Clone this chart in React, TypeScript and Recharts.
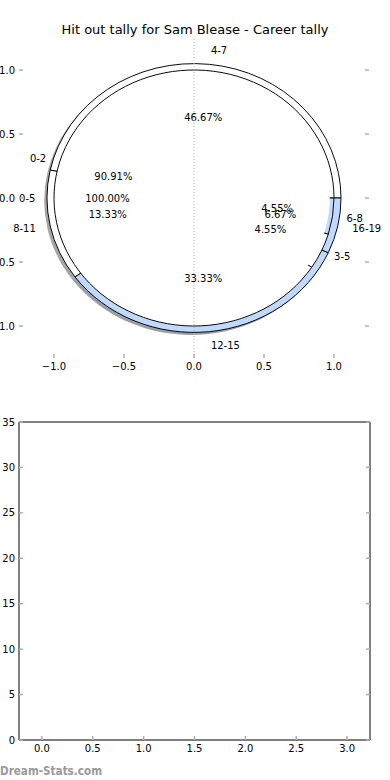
import React from 'react';
import { PieChart, Pie, Cell, ScatterChart, Scatter, XAxis, YAxis, ReferenceLine } from 'recharts';

// hit-out bands per ring; counts give the percentages shown on the chart
const careerBands = ['4-7', '8-11', '12-15', '16-19'];
const careerCounts = [7, 2, 5, 1];
const seasonBands = ['0-2', '3-5', '6-8'];
const seasonCounts = [20, 1, 1];
const recentBands = ['0-5'];
const recentCounts = [1];

const careerFills = ['#ffffff', '#ffffff', '#bfd9ff', '#bfd9ff'];
const seasonFills = ['#ffffff', '#ffffff', '#bfd9ff'];
const recentFills = ['#ffffff'];

const pieTicks = [-1, -0.5, 0, 0.5, 1];
const tallyXTicks = [0, 0.5, 1, 1.5, 2, 2.5, 3];
const tallyYTicks = [0, 5, 10, 15, 20, 25, 30, 35];
const tallyPoints: { x: number; y: number }[] = [];

const FONT = '"DejaVu Sans", sans-serif';
const TICK_GREY = '#b0b0b0';
const UNIT_X = 140; // px per data unit, horizontal
const UNIT_Y = 128; // px per data unit, vertical
const CX = 194;
const CY = 198;
const SHADOW = 2.8;

const toRows = (bands: string[], counts: number[]) => bands.map((band, i) => ({ band, count: counts[i] }));

const rings = [
  { key: 'career', data: toRows(careerBands, careerCounts), fills: careerFills, radius: 1.05, labelRadius: 1.05, edge: '#000' },
  { key: 'season', data: toRows(seasonBands, seasonCounts), fills: seasonFills, radius: 1.0, labelRadius: 1.0, edge: '#000' },
  // single 100% wedge: matplotlib draws it as a plain circle, no radial edge
  { key: 'recent', data: toRows(recentBands, recentCounts), fills: recentFills, radius: 0.97, labelRadius: 1.03, edge: 'none' },
];

// matplotlib style shadow: 0.3 x face colour at half alpha
const shade = (hex: string) => {
  const n = parseInt(hex.slice(1), 16);
  const r = Math.round(((n >> 16) & 255) * 0.3);
  const g = Math.round(((n >> 8) & 255) * 0.3);
  const b = Math.round((n & 255) * 0.3);
  return `rgb(${r},${g},${b})`;
};

const ringLabel = (radius: number) => (p: any) => {
  const a = (-p.midAngle * Math.PI) / 180;
  const cos = Math.cos(a);
  const sin = Math.sin(a);
  const nx = CX + 1.1 * radius * UNIT_X * cos;
  const ny = CY + 1.1 * radius * UNIT_Y * sin;
  const px = CX + 0.6 * radius * UNIT_X * cos;
  const py = CY + 0.6 * radius * UNIT_Y * sin;
  return (
    <g key={`${p.name}-${p.index}`} fontFamily={FONT} fontSize={10} fill="#000">
      <text x={nx} y={ny} textAnchor={cos > 0 ? 'start' : 'end'} dominantBaseline="central">
        {p.name}
      </text>
      <text x={px} y={py} textAnchor="middle" dominantBaseline="central">
        {(p.percent * 100).toFixed(2)}%
      </text>
    </g>
  );
};

const num1 = (v: number) => (v < 0 ? '\u2212' : '') + Math.abs(v).toFixed(1);
const int0 = (v: number) => String(v);

const bottomTick = (fmt?: (v: number) => string) => (p: any) => (
  <g>
    <line x1={p.x} x2={p.x} y1={p.y} y2={p.y - 4} stroke={TICK_GREY} strokeWidth={1.5} />
    {fmt && (
      <text x={p.x} y={p.y + 12} textAnchor="middle" fontFamily={FONT} fontSize={10} fill="#000">
        {fmt(p.payload.value)}
      </text>
    )}
  </g>
);
const topTick = (p: any) => (
  <line x1={p.x} x2={p.x} y1={p.y} y2={p.y + 4} stroke={TICK_GREY} strokeWidth={1.5} />
);
const leftTick = (fmt?: (v: number) => string) => (p: any) => (
  <g>
    <line x1={p.x} x2={p.x + 4} y1={p.y} y2={p.y} stroke={TICK_GREY} strokeWidth={1.5} />
    {fmt && (
      <text x={p.x - 4} y={p.y + 3.6} textAnchor="end" fontFamily={FONT} fontSize={10} fill="#000">
        {fmt(p.payload.value)}
      </text>
    )}
  </g>
);
const rightTick = (p: any) => (
  <line x1={p.x} x2={p.x - 4} y1={p.y} y2={p.y} stroke={TICK_GREY} strokeWidth={1.5} />
);

const layer: React.CSSProperties = { position: 'absolute', left: 0, top: 0 };
const axisBase = { type: 'number' as const, interval: 0 as const, tickSize: 0, tickMargin: 0, tickLine: false, allowDataOverflow: true };

const App: React.FC = () => {
  const frame = { stroke: '#000', strokeWidth: 1 };
  const pieDomain: [number, number] = [-1.25, 1.25];
  const tallyXDomain: [number, number] = [-0.225, 3.225];
  const tallyYDomain: [number, number] = [0, 35];
  return (
    <div style={{ position: 'absolute', left: 0, top: 0, width: 390, height: 780, background: '#fff', fontFamily: FONT }}>
      <div style={{ position: 'absolute', left: 0, top: 22, width: 390, textAlign: 'center', fontSize: 13, lineHeight: '16px' }}>
        Hit out tally for Sam Blease - Career tally
      </div>

      {/* pie wedges, squashed into the ellipse matplotlib drew */}
      <div style={{ ...layer, width: 390, height: 380, transform: `scaleY(${UNIT_Y / UNIT_X})`, transformOrigin: `${CX}px ${CY}px` }}>
        <PieChart width={390} height={380} margin={{ top: 0, right: 0, bottom: 0, left: 0 }}>
          {rings.map((r) => (
            <Pie
              key={`shadow-${r.key}`}
              data={r.data}
              dataKey="count"
              nameKey="band"
              cx={CX - SHADOW}
              cy={CY + SHADOW}
              outerRadius={r.radius * UNIT_X}
              startAngle={0}
              endAngle={360}
              stroke="none"
              isAnimationActive={false}
            >
              {r.fills.map((f, i) => (
                <Cell key={i} fill={shade(f)} fillOpacity={0.5} />
              ))}
            </Pie>
          ))}
          {rings.map((r) => (
            <Pie
              key={`wedge-${r.key}`}
              data={r.data}
              dataKey="count"
              nameKey="band"
              cx={CX}
              cy={CY}
              outerRadius={r.radius * UNIT_X}
              startAngle={0}
              endAngle={360}
              stroke={r.edge}
              strokeWidth={1}
              isAnimationActive={false}
            >
              {r.fills.map((f, i) => (
                <Cell key={i} fill={f} />
              ))}
            </Pie>
          ))}
        </PieChart>
      </div>

      {/* labels, unscaled */}
      <div style={{ ...layer, width: 390, height: 380 }}>
        <PieChart width={390} height={380} margin={{ top: 0, right: 0, bottom: 0, left: 0 }}>
          {rings.map((r) => (
            <Pie
              key={`label-${r.key}`}
              data={r.data}
              dataKey="count"
              nameKey="band"
              cx={CX}
              cy={CY}
              outerRadius={r.radius * UNIT_X}
              startAngle={0}
              endAngle={360}
              fill="none"
              stroke="none"
              label={ringLabel(r.labelRadius)}
              labelLine={false}
              isAnimationActive={false}
            />
          ))}
        </PieChart>
      </div>

      {/* axes of the pie panel */}
      <div style={{ ...layer, width: 390, height: 380 }}>
        <ScatterChart width={390} height={380} margin={{ top: 37, right: 20, bottom: 21, left: 18 }}>
          <XAxis {...axisBase} dataKey="x" domain={pieDomain} ticks={pieTicks} height={1}
            axisLine={false} tick={bottomTick(num1)} />
          <XAxis {...axisBase} xAxisId="top" orientation="top" domain={pieDomain} ticks={pieTicks} height={1}
            axisLine={false} tick={topTick} />
          <YAxis {...axisBase} dataKey="y" domain={pieDomain} ticks={pieTicks} width={1}
            axisLine={false} tick={leftTick(num1)} />
          <YAxis {...axisBase} yAxisId="right" orientation="right" domain={pieDomain} ticks={pieTicks} width={1}
            axisLine={false} tick={rightTick} />
          <ReferenceLine x={0} stroke={TICK_GREY} strokeDasharray="1 2" />
          <Scatter data={tallyPoints} isAnimationActive={false} />
        </ScatterChart>
      </div>

      {/* empty tally panel */}
      <div style={{ position: 'absolute', left: 0, top: 380, width: 390, height: 400 }}>
        <ScatterChart width={390} height={400} margin={{ top: 41, right: 19, bottom: 39, left: 18 }}>
          <XAxis {...axisBase} dataKey="x" domain={tallyXDomain} ticks={tallyXTicks} height={1}
            axisLine={frame} tick={bottomTick(num1)} />
          <XAxis {...axisBase} xAxisId="top" orientation="top" domain={tallyXDomain} ticks={tallyXTicks} height={1}
            axisLine={frame} tick={topTick} />
          <YAxis {...axisBase} dataKey="y" domain={tallyYDomain} ticks={tallyYTicks} width={1}
            axisLine={frame} tick={leftTick(int0)} />
          <YAxis {...axisBase} yAxisId="right" orientation="right" domain={tallyYDomain} ticks={tallyYTicks} width={1}
            axisLine={frame} tick={rightTick} />
          <Scatter data={tallyPoints} isAnimationActive={false} />
        </ScatterChart>
      </div>

      <svg style={{ position: 'absolute', left: 0, top: 758 }} width={120} height={22}>
        <text x={0} y={17} fontFamily={FONT} fontSize={13} fontWeight="bold" fill="#9a9a9a"
          textLength={102} lengthAdjust="spacingAndGlyphs">
          Dream-Stats.com
        </text>
      </svg>
    </div>
  );
};

export default App;
